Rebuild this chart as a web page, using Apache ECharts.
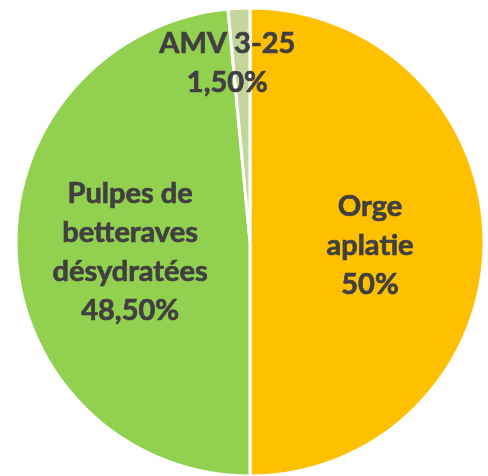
<!DOCTYPE html>
<html>
<head>
<meta charset="utf-8">
<script src="https://cdn.jsdelivr.net/npm/echarts@6/dist/echarts.min.js"></script>
<style>
  html, body { margin: 0; padding: 0; background: #fff; }
  #chart { width: 488px; height: 476px; }
</style>
</head>
<body>
<div id="chart"></div>
<script>
  // données du graphique
  const names = ['Orge\naplatie', 'Pulpes de\nbetteraves\ndésydratées', 'AMV 3-25'];
  const values = [50, 48.5, 1.5];
  const valueLabels = ['50%', '48,50%', '1,50%'];
  const colors = ['#FFC000', '#92D050', '#C4D79B'];

  const chart = echarts.init(document.getElementById('chart'), null, { renderer: 'canvas' });

  const option = {
    animation: false,
    series: [{
      type: 'pie',
      center: [250, 242],
      radius: 234,
      startAngle: 90,
      clockwise: true,
      itemStyle: { borderColor: '#fff', borderWidth: 3 },
      label: {
        position: 'inside',
        color: '#404040',
        fontFamily: 'Lato',
        fontWeight: 'bold',
        fontSize: 29,
        lineHeight: 39,
        align: 'center',
        textBorderColor: '#404040',
        textBorderWidth: 0.7,
        formatter: p => p.name + '\n' + valueLabels[p.dataIndex]
      },
      labelLine: { show: false },
      labelLayout: p => p.dataIndex === 2 ? { dx: -17, dy: -59 } : { dy: 4 },
      data: names.map((n, i) => ({
        name: n,
        value: values[i],
        itemStyle: { color: colors[i] }
      }))
    }]
  };

  chart.setOption(option);
</script>
</body>
</html>
